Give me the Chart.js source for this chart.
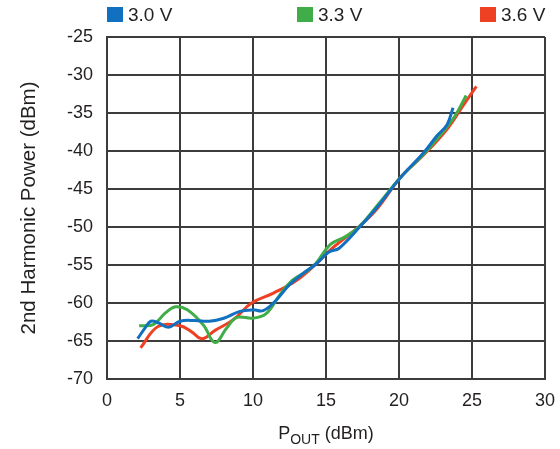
<!DOCTYPE html>
<html>
<head>
<meta charset="utf-8">
<script src="https://cdn.jsdelivr.net/npm/chart.js@4"></script>
<style>
  body { margin: 0; background: #fff; }
  #wrap { position: relative; width: 560px; height: 449px; font-family: "Liberation Sans", Arial, sans-serif; color: #231f20; }
  canvas { position: absolute; left: 0; top: 0; }
  .leg { position: absolute; top: 4px; font-size: 19px; line-height: 22px; white-space: nowrap; }
  .leg span { display: inline-block; width: 16px; height: 15px; margin-right: 5px; vertical-align: -1px; }
  #xtitle { position: absolute; top: 423px; left: 0; width: 652px; text-align: center; font-size: 18px; }
  #xtitle sub { font-size: 14px; vertical-align: -5px; }
</style>
</head>
<body>
<div id="wrap">
  <canvas id="c" width="560" height="449"></canvas>
  <div id="legend"></div>
  <div id="xtitle">P<sub>OUT</sub> (dBm)</div>
</div>
<script>
const seriesNames = ['3.0 V', '3.3 V', '3.6 V'];
const seriesColors = ['#1170c0', '#40ad48', '#ee4023'];

// POUT (dBm) / 2nd harmonic (dBm)
const x30 = [2.1, 2.6, 3.0, 3.5, 4.2, 5.0, 6.0, 7.0, 8.0, 9.1, 10.0, 10.7, 11.5, 12.5, 13.5, 14.3, 15.2, 15.9, 17.3, 18.5, 20.1, 21.7, 22.6, 23.3, 23.7];
const y30 = [-64.7, -63.3, -62.4, -62.6, -63.2, -62.4, -62.3, -62.4, -62.0, -61.1, -60.9, -61.0, -59.8, -57.6, -56.0, -54.9, -53.3, -52.8, -50.0, -47.4, -43.5, -40.2, -38.0, -36.5, -34.3];

const x33 = [2.2, 3.2, 4.0, 4.7, 5.5, 6.6, 7.4, 8.2, 8.9, 10.0, 10.9, 11.85, 12.7, 13.7, 14.3, 15.3, 16.3, 17.3, 18.5, 20.1, 21.7, 23.0, 23.8, 24.6];
const y33 = [-63.0, -62.8, -61.3, -60.5, -60.9, -62.9, -65.2, -63.3, -61.9, -62.0, -61.4, -58.9, -57.0, -55.8, -54.8, -52.3, -51.3, -49.9, -47.2, -43.5, -40.4, -37.5, -35.5, -32.7];

const x36 = [2.3, 3.5, 5.0, 5.8, 6.5, 7.4, 8.65, 9.9, 11.4, 13.0, 14.3, 15.3, 17.3, 18.5, 20.1, 21.7, 23.3, 24.4, 25.3];
const y36 = [-65.9, -63.1, -63.0, -63.8, -64.7, -63.6, -62.2, -60.0, -58.7, -57.0, -54.9, -53.0, -49.9, -47.6, -43.5, -40.5, -37.1, -34.0, -31.5];

const xs = [x30, x33, x36];
const ys = [y30, y33, y36];

const legendLeft = [107, 297, 480];
const legend = document.getElementById('legend');
seriesNames.forEach((n, i) => {
  const d = document.createElement('div');
  d.className = 'leg';
  d.style.left = legendLeft[i] + 'px';
  d.innerHTML = `<span style="background:${seriesColors[i]}"></span>${n}`;
  legend.appendChild(d);
});

const font = { family: '"Liberation Sans", Arial, sans-serif', size: 18 };
const gridColor = '#3c3c3c';

new Chart(document.getElementById('c'), {
  type: 'scatter',
  data: {
    datasets: seriesNames.map((n, i) => ({
      label: n,
      data: xs[i].map((x, j) => ({ x, y: ys[i][j] })),
      showLine: true,
      borderColor: seriesColors[i],
      borderWidth: 3,
      pointRadius: 0,
      tension: 0.4,
    })),
  },
  options: {
    responsive: false,
    animation: false,
    layout: { padding: { top: 37, right: 15, left: 0, bottom: 0 } },
    plugins: { legend: { display: false }, tooltip: { enabled: false } },
    scales: {
      x: {
        type: 'linear', min: 0, max: 30,
        ticks: { stepSize: 5, color: '#231f20', font, padding: 11 },
        grid: { color: gridColor, lineWidth: 2, drawTicks: false },
        border: { color: gridColor, width: 2 },
        afterFit: (s) => { s.height = 70; s.paddingRight = 0; s.paddingLeft = 0; },
      },
      y: {
        type: 'linear', min: -70, max: -25,
        ticks: { stepSize: 5, color: '#231f20', font, padding: 14 },
        grid: { color: gridColor, lineWidth: 2, drawTicks: false },
        border: { color: gridColor, width: 2 },
        title: { display: true, text: '2nd Harmonic Power (dBm)', color: '#231f20', font: { ...font, size: 20.5 }, padding: { top: 17 } },
        afterFit: (s) => { s.width = 107; },
      },
    },
  },
});
</script>
</body>
</html>
